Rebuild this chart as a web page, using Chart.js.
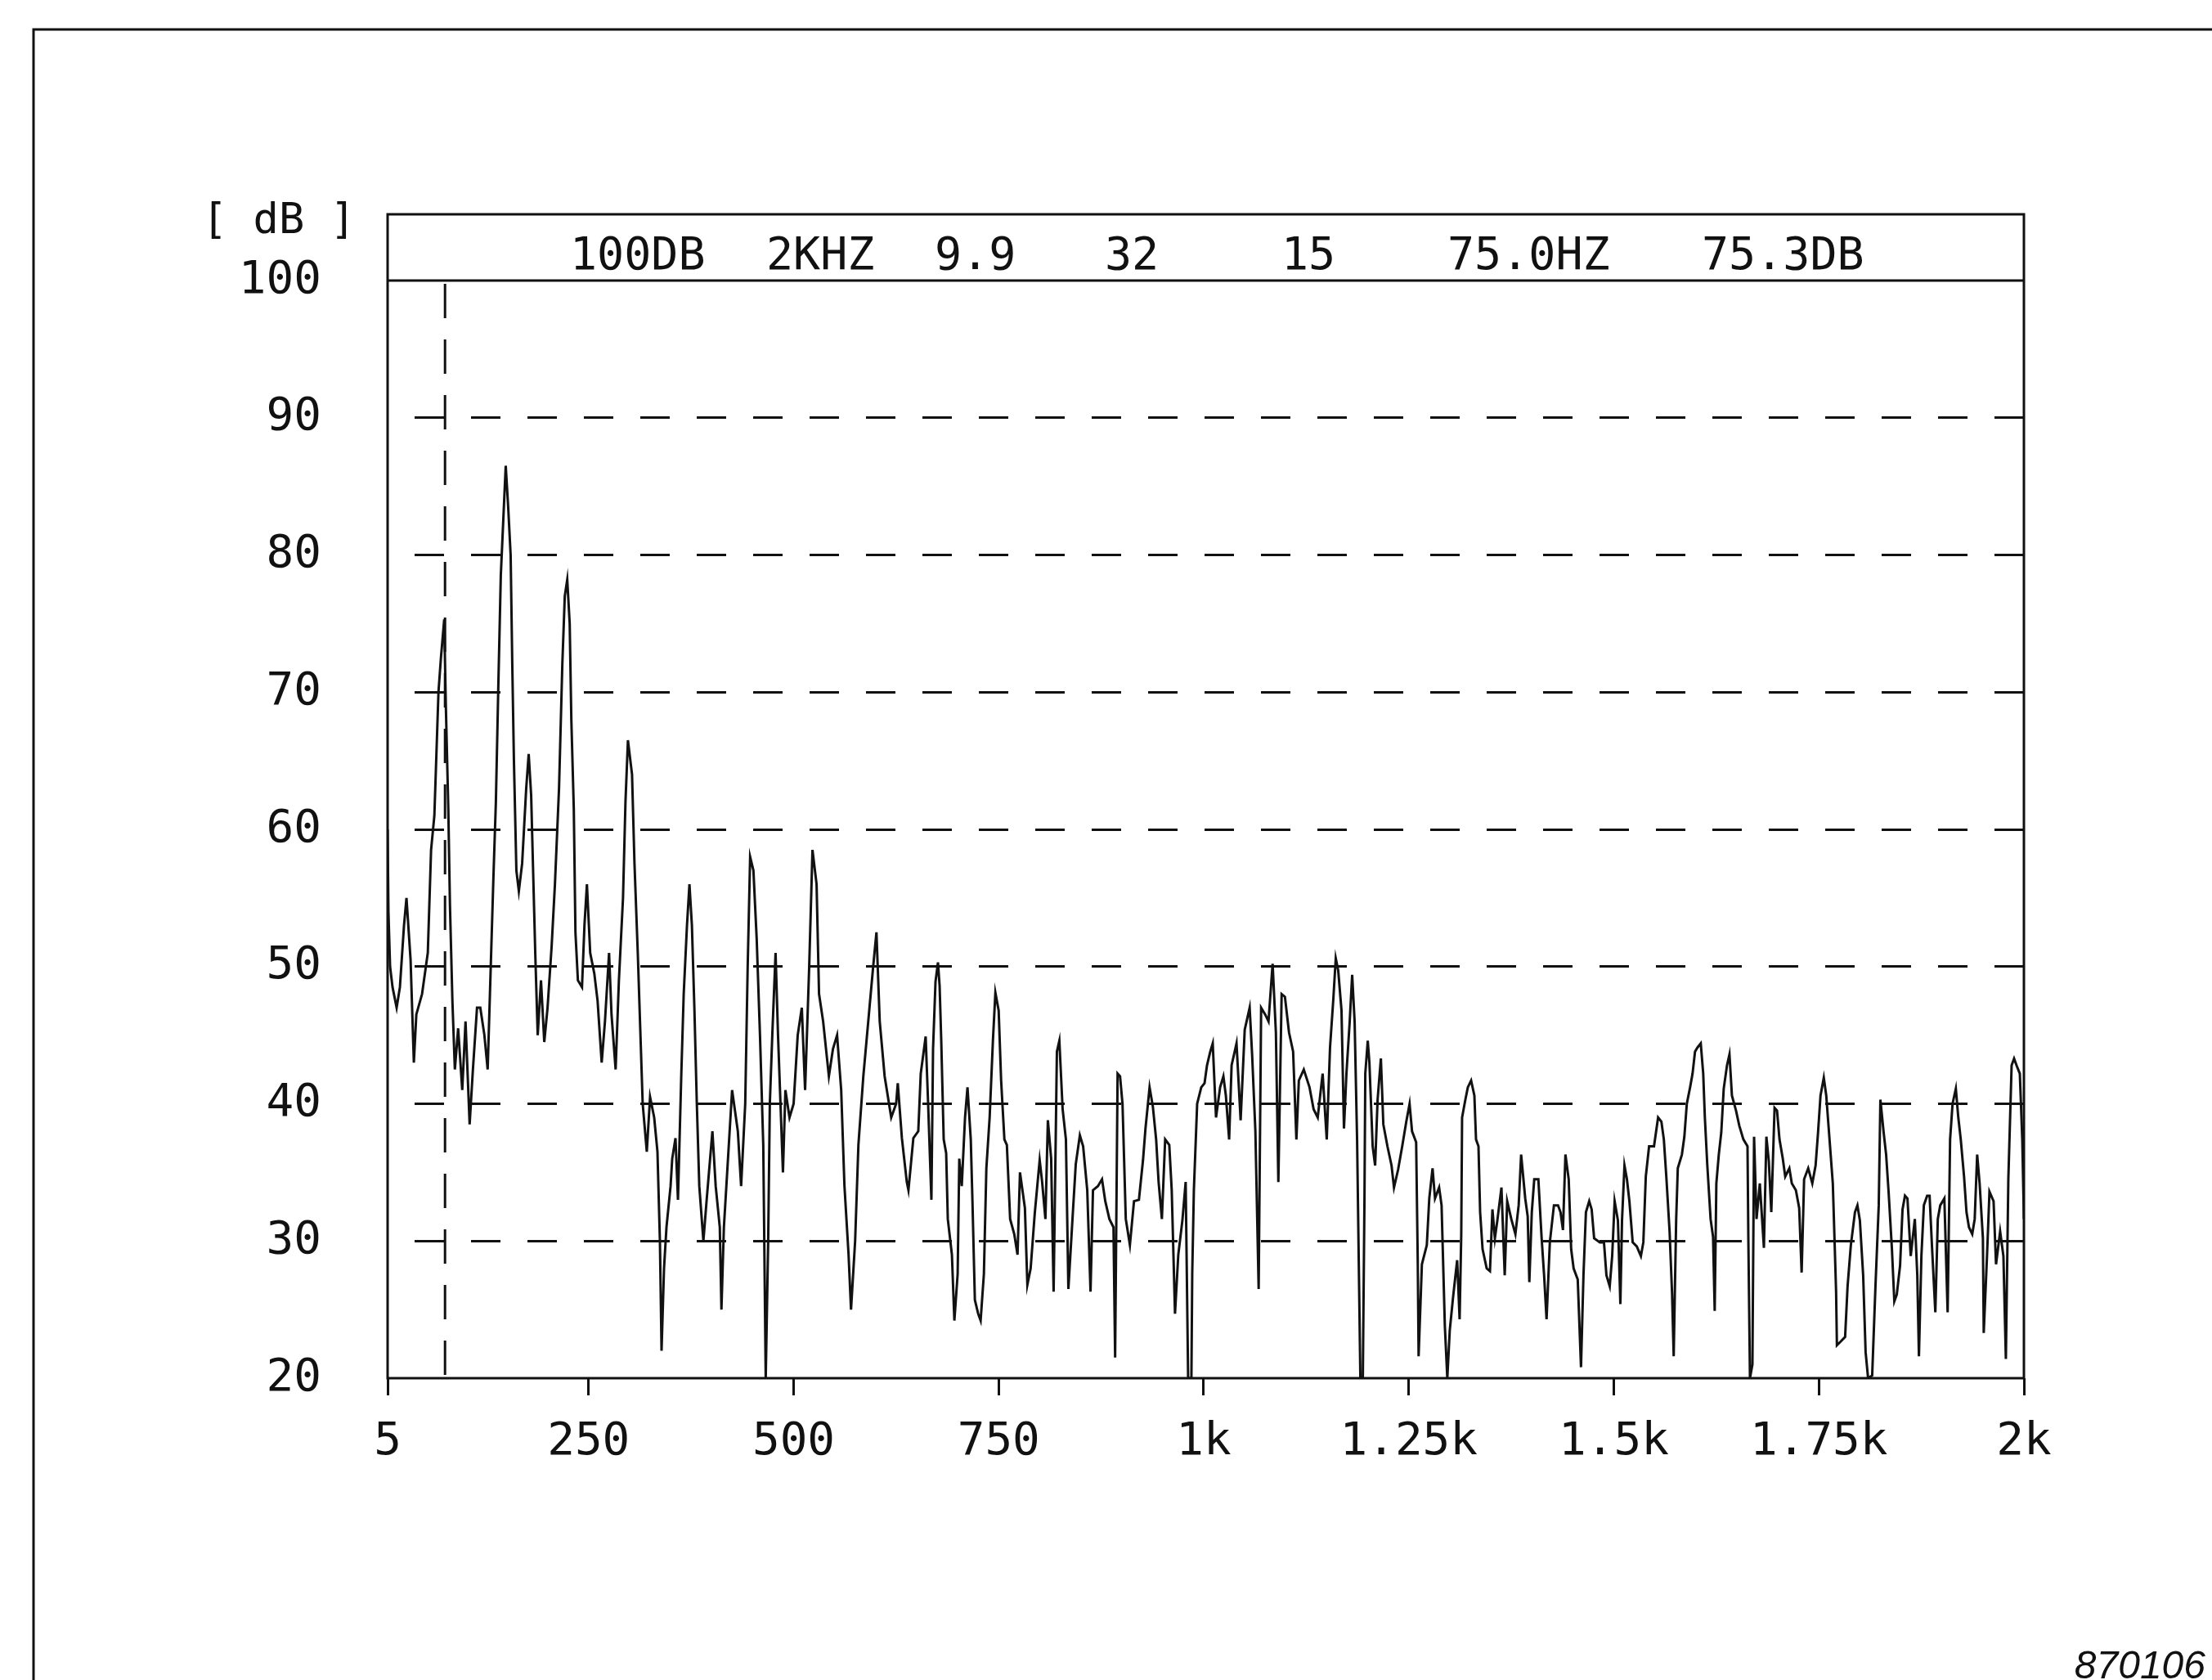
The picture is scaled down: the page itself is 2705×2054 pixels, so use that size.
<!DOCTYPE html>
<html>
<head>
<meta charset="utf-8">
<title>Spectrum 870106</title>
<script src="https://cdn.jsdelivr.net/npm/chart.js@4.4.1/dist/chart.umd.min.js"></script>
<style>
html, body { margin: 0; padding: 0; background: #fff; }
canvas { display: block; }
</style>
</head>
<body>
<canvas id="spectrum" width="2705" height="2054"></canvas>
<script>
// spectrum trace in four bands (Hz / dB)
var freqLow = [
    5, 6, 8, 11, 16, 20, 25, 28, 33, 37,
    40, 47, 54, 58, 62, 67, 70, 74, 76, 79,
    81, 84, 87, 91, 96, 100, 105, 109, 114, 118,
    123, 127, 131, 134, 137, 140, 143, 146, 149, 152,
    155, 157, 159, 162, 165, 169, 174, 177, 180, 185,
    188, 192, 196, 200, 205, 209, 214, 218, 221, 224,
    227, 229, 232, 234, 237, 242, 245, 248, 252, 257,
    261, 266, 270, 275, 278, 283, 287, 292, 295, 298,
    303, 306, 310, 313, 316, 321, 325, 330, 334, 337,
    339, 342, 345, 350, 352, 356, 359, 363, 366, 370,
    373, 376, 379, 382, 385, 390, 394, 401, 405, 410,
    412, 415, 420, 425, 432, 436, 441, 444, 447, 451,
    455, 459, 463, 466, 469, 471, 474, 478, 481, 484,
    487, 490, 495, 500, 505, 510, 514, 519, 523, 528,
    531, 536, 543, 548, 553, 558, 562, 567, 570, 575,
    579, 585, 591, 597, 601, 605, 611, 619, 625
];
var levelLow = [
    60, 54, 50, 48.5, 47, 48.5, 53, 55, 50.5, 43,
    46.5, 48, 51, 58.5, 61, 70, 72.5, 75.3, 69, 61.5,
    54.5, 47.5, 42.5, 45.5, 41, 46, 38.5, 42.5, 47, 47,
    45, 42.5, 50.5, 56.5, 62, 70.5, 78.5, 82.5, 86.5, 83.5,
    80, 72, 65, 57, 55.5, 57.5, 63, 65.5, 62.5, 51,
    45, 49, 44.5, 47, 51.5, 56, 63, 72, 77, 78.2,
    75, 68, 61.5, 52.5, 49, 48.5, 53, 56, 51, 49.5,
    47.5, 43, 46, 51, 46.5, 42.5, 49, 55, 62, 66.5,
    64, 57.5, 51, 45.5, 40, 36.5, 40.5, 39, 36.5, 30,
    22, 28, 31, 34, 36, 37.5, 33, 42, 48, 53,
    56, 53, 47, 40, 34, 30, 33, 38, 34, 31,
    25, 31, 36, 41, 38, 34, 40, 50, 58, 57,
    52, 45, 37, 20, 30, 40, 45, 51, 45, 40,
    35, 41, 39, 40, 45, 47, 41, 50, 58.5, 56,
    48, 46, 42, 44, 45, 41, 34, 29, 25, 30,
    37, 42, 46, 50, 52.5, 46, 42, 39, 40
];

var freqMid = [
    627, 632, 638, 640, 643, 646, 652, 655, 661, 664,
    668, 670, 673, 676, 678, 680, 683, 686, 688, 693,
    696, 700, 702, 705, 709, 712, 716, 718, 721, 725,
    728, 732, 735, 739, 743, 746, 750, 753, 757, 760,
    764, 769, 773, 776, 782, 785, 789, 794, 800, 803,
    807, 810, 814, 817, 821, 824, 828, 832, 835, 840,
    844, 849, 853, 858, 862, 865, 871, 876, 880, 885,
    890, 892, 895, 898, 901, 905, 910, 915, 921, 926,
    929, 934, 938, 942, 945, 949, 953, 958, 961, 965,
    969, 974, 978, 981, 985, 986, 988, 992, 997, 1001,
    1004, 1008, 1011, 1015, 1020, 1024, 1027, 1031, 1034, 1040,
    1045, 1050, 1056, 1059, 1063, 1067, 1070, 1075, 1079, 1084,
    1088, 1091, 1095, 1099, 1104, 1109, 1113, 1116, 1122, 1129,
    1134, 1139, 1145, 1150, 1154
];
var levelMid = [
    41.5, 37.5, 34.3, 33.7, 35.6, 37.5, 38, 42.2, 44.9, 40,
    33, 44, 48.9, 50.3, 48.6, 44.6, 37.4, 36.4, 31.6, 29,
    24.2, 27.6, 36, 34, 39, 41.2, 37.4, 33, 25.7, 24.7,
    24.2, 27.6, 35.3, 39, 44.6, 48.1, 46.8, 41.7, 37.4, 37,
    31.6, 30.5, 29, 35, 32.4, 26.8, 28, 32, 35.9, 34.3,
    31.6, 38.8, 36, 26.3, 43.8, 44.6, 39.6, 37.4, 26.5, 31.6,
    35.6, 37.7, 36.9, 33.7, 26.3, 33.7, 34, 34.5, 32.9, 31.6,
    31, 21.5, 42.2, 42, 40, 31.6, 29.7, 32.9, 33, 35.9,
    38.2, 41.2, 39.8, 37.4, 34.3, 31.6, 37.4, 37, 33.7, 24.7,
    29, 31.5, 34.3, 20, 20, 27.6, 33.7, 40, 41.2, 41.5,
    42.8, 43.8, 44.4, 39, 41.2, 42, 40.6, 37.4, 42.8, 44.4,
    38.8, 45.4, 47, 43.6, 38, 26.5, 47, 46.5, 46, 50.2,
    45.2, 34.3, 48, 47.8, 45.2, 43.8, 37.4, 41.7, 42.5, 41.2,
    39.6, 39, 42.2, 37.4, 44.1
];

var freqHigh = [
    1158, 1161, 1164, 1168, 1171, 1174, 1178, 1181, 1184, 1187,
    1191, 1194, 1196, 1197, 1200, 1202, 1206, 1209, 1212, 1216,
    1219, 1224, 1229, 1232, 1237, 1242, 1247, 1251, 1254, 1259,
    1261, 1262, 1266, 1272, 1275, 1279, 1282, 1287, 1290, 1294,
    1297, 1300, 1304, 1309, 1312, 1314, 1315, 1319, 1322, 1326,
    1330, 1332, 1335, 1337, 1340, 1345, 1349, 1352, 1355, 1358,
    1363, 1367, 1370, 1375, 1380, 1384, 1387, 1392, 1395, 1397,
    1400, 1403, 1408, 1412, 1415, 1418, 1422, 1427, 1432, 1435,
    1438, 1441, 1445, 1448, 1451, 1456, 1460, 1463, 1466, 1470,
    1473, 1476, 1483, 1488, 1491, 1495, 1498, 1501, 1505, 1508,
    1510, 1513, 1516, 1519, 1523, 1528, 1533, 1536, 1539, 1543,
    1549, 1554, 1558, 1561, 1564, 1568, 1571, 1573, 1576, 1578,
    1583, 1586, 1589, 1593, 1596, 1599, 1602
];
var levelHigh = [
    47.6, 50.6, 49.7, 46.8, 38.2, 42.2, 46, 49.4, 46, 37.4,
    20, 20, 33.1, 42.2, 44.6, 43, 36.9, 35.5, 40.3, 43.3,
    38.5, 36.9, 35.5, 33.9, 35.2, 36.9, 38.7, 40, 38, 37.2,
    28.3, 21.6, 28.3, 29.7, 33.1, 35.3, 33.1, 33.9, 32.6, 23.8,
    20, 23.5, 25.9, 28.6, 24.3, 30.5, 39, 40.3, 41.2, 41.7,
    40.6, 37.4, 36.9, 32.1, 29.4, 28, 27.8, 32.3, 30.2, 31.5,
    33.9, 27.5, 32.9, 31.6, 30.5, 32.6, 36.3, 33.1, 31.8, 27,
    32.1, 34.5, 34.5, 30.2, 27.5, 24.3, 29.9, 32.6, 32.6, 32.1,
    30.8, 36.3, 34.5, 29.4, 28, 27.2, 20.8, 27.5, 32.1, 32.9,
    32.3, 30.2, 29.9, 29.9, 27.5, 26.7, 28.9, 32.9, 31.5, 25.4,
    31.5, 35.5, 34.5, 32.9, 29.9, 29.6, 28.9, 29.9, 34.7, 36.9,
    36.9, 39, 38.7, 37.4, 34.7, 30.7, 26.2, 21.6, 31.5, 35.3,
    36.3, 37.6, 40, 41.2, 42.2, 43.8, 44.1
];

var freqTop = [
    1606, 1609, 1611, 1614, 1618, 1621, 1623, 1625, 1628, 1631,
    1634, 1638, 1641, 1644, 1649, 1653, 1658, 1663, 1664, 1666,
    1669, 1671, 1674, 1678, 1683, 1686, 1689, 1692, 1696, 1699,
    1702, 1706, 1709, 1714, 1717, 1722, 1726, 1729, 1732, 1737,
    1742, 1746, 1749, 1752, 1756, 1759, 1762, 1767, 1769, 1771,
    1772, 1777, 1782, 1785, 1789, 1794, 1797, 1800, 1804, 1807,
    1810, 1815, 1819, 1823, 1825, 1829, 1832, 1835, 1839, 1842,
    1845, 1849, 1852, 1855, 1858, 1862, 1867, 1870, 1872, 1875,
    1878, 1882, 1885, 1888, 1892, 1895, 1898, 1903, 1907, 1910,
    1913, 1917, 1920, 1923, 1927, 1930, 1933, 1937, 1940, 1943,
    1946, 1950, 1951, 1955, 1958, 1963, 1966, 1971, 1975, 1978,
    1981, 1985, 1988, 1991, 1995, 1998, 2000
];
var levelTop = [
    44.4, 42.2, 39, 35.5, 31.6, 30.3, 24.9, 34.2, 36.3, 37.9,
    41.1, 42.8, 43.6, 40.6, 39.5, 38.4, 37.4, 36.9, 30.3, 20,
    21, 37.6, 31.6, 34.2, 29.5, 37.6, 35.8, 32.1, 39.7, 39.5,
    37.4, 36, 34.7, 35.3, 34.2, 33.7, 32.4, 27.7, 34.5, 35.3,
    34.2, 35.5, 37.9, 40.6, 41.9, 40.6, 38.2, 34.2, 30.3, 26.3,
    22.4, 22.7, 23, 26.7, 29.7, 32.1, 32.6, 31.5, 27.5, 21.9,
    20, 20.2, 26.7, 32.6, 40.3, 37.9, 36.3, 33.6, 29.5, 25.6,
    26.1, 28.2, 32.3, 33.3, 33.1, 28.9, 31.6, 27.5, 21.6, 28.9,
    32.6, 33.3, 33.3, 29.5, 24.8, 31.6, 32.6, 33.1, 24.8, 37.4,
    40, 41.1, 39, 37.4, 34.7, 32.1, 31, 30.5, 31.6, 36.3,
    34.2, 30.2, 23.3, 28.9, 33.6, 32.9, 28.3, 30.7, 28.9, 21.4,
    34.5, 42.8, 43.3, 42.8, 42.2, 37.4, 31.6
];

// axes
var xTicks = [5, 250, 500, 750, 1000, 1250, 1500, 1750, 2000];
var xTickLabels = ['5', '250', '500', '750', '1k', '1.25k', '1.5k', '1.75k', '2k'];
var yMin = 20, yMax = 100, yStep = 10;

// analyser read-out line and cursor
var headerText = ['100DB', '2KHZ', '9.9', '32', '15', '75.0HZ', '75.3DB'];
var cursorHz = 75.0;
var unitLabel = '[ dB ]';
var plotNumber = '870106';

// layout (pixels), not data
var headerX = [697, 937, 1143, 1351, 1567, 1770, 2081];
var ink = '#111';
var monoFont = '"DejaVu Sans Mono", "Liberation Mono", monospace';

var trace = [];
var allFreq = freqLow.concat(freqMid, freqHigh, freqTop);
var allLevel = levelLow.concat(levelMid, levelHigh, levelTop);
for (var i = 0; i < allFreq.length; i++) {
    trace.push({ x: allFreq[i], y: allLevel[i] });
}

var plotterFrame = {
    id: 'plotterFrame',
    beforeDatasetsDraw: function (chart) {
        var c = chart.ctx, a = chart.chartArea;
        var cx = chart.scales.x.getPixelForValue(cursorHz);
        c.save();
        c.strokeStyle = ink;
        c.lineWidth = 3;
        c.setLineDash([42, 26]);
        c.beginPath();
        c.moveTo(cx, a.top + 4);
        c.lineTo(cx, a.bottom);
        c.stroke();
        c.restore();
    },
    afterDraw: function (chart) {
        var c = chart.ctx, a = chart.chartArea;
        c.save();
        c.strokeStyle = ink;
        c.fillStyle = ink;
        c.lineWidth = 3;

        // sheet border
        c.beginPath();
        c.moveTo(2705, 36);
        c.lineTo(41, 36);
        c.lineTo(41, 2054);
        c.stroke();

        // plot box with read-out strip above it
        c.lineWidth = 3;
        c.strokeRect(a.left, a.top - 81, a.right - a.left, a.bottom - a.top + 81);
        c.beginPath();
        c.moveTo(a.left, a.top);
        c.lineTo(a.right, a.top);
        c.stroke();

        c.font = '55px ' + monoFont;
        c.textBaseline = 'middle';
        c.textAlign = 'left';
        for (var i = 0; i < headerText.length; i++) {
            c.fillText(headerText[i], headerX[i], a.top - 28);
        }

        c.font = '52px ' + monoFont;
        c.fillText(unitLabel, 247, a.top - 72);

        c.font = 'italic 48px "Liberation Sans", Arial, sans-serif';
        c.textAlign = 'right';
        c.textBaseline = 'alphabetic';
        c.fillText(plotNumber, 2697, 2052);
        c.restore();
    }
};

var ctx = document.getElementById('spectrum').getContext('2d');
var spectrumChart = new Chart(ctx, {
    type: 'line',
    data: {
        datasets: [{
            data: trace,
            borderColor: ink,
            borderWidth: 3,
            pointRadius: 0,
            tension: 0,
            fill: false
        }]
    },
    options: {
        responsive: false,
        animation: false,
        devicePixelRatio: 1,
        layout: { padding: { left: 274, right: 230, top: 343, bottom: 219 } },
        plugins: {
            legend: { display: false },
            tooltip: { enabled: false }
        },
        scales: {
            x: {
                type: 'linear',
                min: 5,
                max: 2000,
                afterBuildTicks: function (axis) {
                    axis.ticks = xTicks.map(function (v) { return { value: v }; });
                },
                afterFit: function (axis) { axis.height = 150; },
                grid: {
                    drawOnChartArea: false,
                    drawTicks: true,
                    tickLength: 21,
                    tickColor: ink,
                    tickWidth: 3,
                    color: ink
                },
                border: { display: false },
                ticks: {
                    autoSkip: false,
                    maxRotation: 0,
                    padding: 24,
                    color: ink,
                    font: { family: monoFont, size: 56 },
                    callback: function (value, index) { return xTickLabels[index]; }
                }
            },
            y: {
                min: yMin,
                max: yMax,
                afterFit: function (axis) { axis.width = 200; },
                grid: {
                    drawTicks: false,
                    lineWidth: 3,
                    color: function (context) {
                        var v = context.tick ? context.tick.value : null;
                        return (v === yMin || v === yMax) ? 'rgba(0,0,0,0)' : ink;
                    }
                },
                border: { display: false, dash: [36, 33], dashOffset: 36 },
                ticks: {
                    stepSize: yStep,
                    padding: 81,
                    color: ink,
                    font: { family: monoFont, size: 56 }
                }
            }
        }
    },
    plugins: [plotterFrame]
});
</script>
</body>
</html>
